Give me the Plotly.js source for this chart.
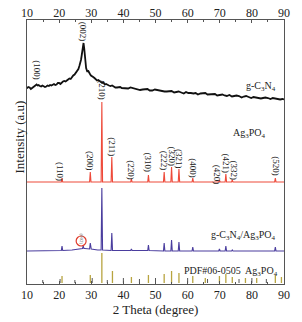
<!DOCTYPE html>
<html><head><meta charset="utf-8">
<script src="https://cdn.plot.ly/plotly-3.0.1.min.js"></script>
<style>html,body{margin:0;padding:0;background:#fff;}#g{width:302px;height:322px;}</style>
</head><body><div id="g"></div>
<script>
// g-C3N4 pattern (noisy broad curve)
const gTheta = [10.0,10.4,10.8,11.2,11.6,12.0,12.4,12.8,13.0,13.3,13.6,14.0,14.4,14.8,15.2,15.6,16.0,16.4,16.8,17.2,17.6,18.0,18.4,18.8,19.2,19.6,20.0,20.4,20.8,21.2,21.6,22.0,22.4,22.8,23.2,23.6,24.0,24.4,24.8,25.1,25.4,25.7,26.0,26.3,26.5,26.8,27.0,27.2,27.4,27.6,27.8,28.0,28.2,28.4,28.6,28.8,29.0,29.3,29.6,29.9,30.2,30.6,31.0,31.4,31.8,32.2,32.6,33.0,33.4,33.8,34.2,34.6,35.0,35.5,36.0,36.5,37.0,37.5,38.0,38.5,39.0,39.5,40.0,40.8,41.5,42.2,43.0,43.8,44.5,45.2,46.0,46.8,47.5,48.2,49.0,49.8,50.5,51.2,52.0,52.8,53.5,54.2,55.0,55.8,56.5,57.2,58.0,58.8,59.5,60.2,61.0,61.8,62.5,63.2,64.0,64.8,65.5,66.2,67.0,67.8,68.5,69.2,70.0,70.8,71.5,72.2,73.0,73.8,74.5,75.2,76.0,76.8,77.5,78.2,79.0,79.8,80.5,81.2,82.0,82.8,83.5,84.2,85.0,85.8,86.5,87.2,88.0,88.8,89.5,90.0];
const gInt   = [195.5,197,196.5,195,196,197.5,198,199,199.5,198.5,199,198,197.5,198.5,198,197,197.5,198.5,198,199,198.5,199.5,200,199,199.5,201,201,200,201.5,202.5,203,202.5,203.5,204.5,205.5,205,207,208.5,209.5,211,212,213.5,215,218,220,224,228,234,239,241,236,228,221,216,214,212,213.5,211,210,208.5,207.5,207,206,204.5,203.5,204,203,202,201,201.5,199.5,200,199,198.5,198,198.5,197.5,196.5,196.5,197,197,196,196,195.5,195.5,196.5,196,195,195,194,194.5,195,195,193.5,193.5,194.5,194,193,193,192.5,192.5,193,193,191.5,192,192.5,191.5,190.5,192,191,191,190.5,191,189.5,190.5,191,191,189.5,189.5,190,190,188.5,189,189.5,188.5,188,189,187.5,188,188.5,188,186.5,187.5,188,187,186,187,186.5,186.5,185.5,186,186.5,186,185,186,185.5,185,184.5,185,184.5];

// Ag3PO4 pattern: peak positions and peak-top intensities over a flat baseline
const agBase = 102;
const agTheta = [20.9,29.7,33.3,36.4,42.5,47.8,52.7,55.0,57.3,61.6,69.9,71.9,73.9,87.3];
const agTop   = [106,112,182,127,105,109,112,117,115,106,104,110,104,106];
const agLabels = ["(110)","(200)","(210)","(211)","(220)","(310)","(222)","(320)","(321)","(400)","(420)","(421)","(332)","(520)"];
const agLabelTheta = [20.3,29.6,33.3,36.4,42.3,47.8,52.7,55.0,57.3,61.6,69.2,71.8,74.3,87.4];
const agLabelY = [113,123,194,137,114,121,123,128,125,116,109,121,114,118];

// g-C3N4/Ag3PO4 composite: baseline points and peaks
const cBaseTheta = [10,16,20,24,26,28,30,32,40,60,90];
const cBaseInt   = [33,33,33.5,34,35,35.5,35,34,33.5,33,33];
const cTheta = [20.9,27.5,29.7,33.3,36.4,42.5,47.8,52.7,55.0,57.3,61.6,69.9,71.9,73.9,87.3];
const cPeakBase = [33.5,35.5,35,34,33.5,33.5,33.5,33,33,33,33,33,33,33,33];
const cTop  = [38,38,41,96,51,35,39,41,44,42,37,35,38,34,37];

// PDF#06-0505 reference sticks
const pdfTheta = [14.9,20.3,20.9,24.9,29.7,30.3,33.3,35.0,36.6,40.0,42.5,45.0,47.8,50.0,52.7,55.0,57.3,60.0,61.6,65.5,66.2,69.9,71.9,73.9,76.0,78.0,80.0,81.5,84.5,87.3,89.2];
const pdfInt   = [3,4,7,3,8,5,30,3,12,5,6,4,8,5,9,12,10,5,7,5,4,7,9,6,4,5,5,5,4,8,6];
const pdfMain  = [0,0,1,0,1,0,1,0,1,0,1,0,1,0,1,1,1,0,1,1,0,1,1,1,0,1,0,1,0,1,1];

// build traces
function sticks(thetas, tops, base, halfw){
  const x=[], y=[];
  thetas.forEach((t,i)=>{ x.push(t-halfw,t,t+halfw); y.push(base[i],tops[i],base[i]); });
  return {x,y};
}
const agPts = sticks(agTheta, agTop, agTheta.map(()=>agBase), 0.22);
const agX=[10].concat(agPts.x,[90]), agY=[agBase].concat(agPts.y,[agBase]);

const cPts = sticks(cTheta, cTop, cPeakBase, 0.22);
let cAll = cBaseTheta.map((t,i)=>[t,cBaseInt[i]]);
cPts.x.forEach((t,i)=>cAll.push([t,cPts.y[i]]));
cAll.sort((a,b)=>a[0]-b[0]);

function pdfLines(sel){
  const x=[],y=[];
  pdfTheta.forEach((t,i)=>{ if(pdfMain[i]===sel){ x.push(t,t,null); y.push(1,1+pdfInt[i],null);} });
  return {x,y};
}
const pMain=pdfLines(1), pMinor=pdfLines(0);

const traces = [
  {x:gTheta,y:gInt,mode:'lines',line:{color:'#111',width:1.8},hoverinfo:'skip'},
  {x:agX,y:agY,mode:'lines',line:{color:'#ee4a3a',width:1.1},hoverinfo:'skip'},
  {x:cAll.map(p=>p[0]),y:cAll.map(p=>p[1]),mode:'lines',line:{color:'#4a3d9e',width:1.1},hoverinfo:'skip'},
  {x:pMain.x,y:pMain.y,mode:'lines',line:{color:'#b8a440',width:1.3},hoverinfo:'skip'},
  {x:pMinor.x,y:pMinor.y,mode:'lines',line:{color:'#555',width:1},hoverinfo:'skip'},
  {x:[10,90],y:[-10,-10],xaxis:'x2',mode:'lines',line:{width:0},hoverinfo:'skip',showlegend:false}
];

const serif = 'Liberation Serif, Times New Roman, serif';
const ann = [];
agLabels.forEach((l,i)=>ann.push({x:agLabelTheta[i],y:agLabelY[i],text:l,showarrow:false,textangle:90,font:{family:serif,size:9,color:'#222'}}));
ann.push({x:13,y:214,text:'(100)',showarrow:false,textangle:90,font:{family:serif,size:9,color:'#222'}});
ann.push({x:27.5,y:252,text:'(002)',showarrow:false,textangle:90,font:{family:serif,size:9,color:'#222'}});
ann.push({x:27.0,y:45,text:'(002)',showarrow:false,textangle:90,font:{family:serif,size:5,color:'#666'}});
ann.push({x:88.1,y:198,text:'g-C<sub>3</sub>N<sub>4</sub>',showarrow:false,xanchor:'right',font:{family:serif,size:10,color:'#222'}});
ann.push({x:85.0,y:151,text:'Ag<sub>3</sub>PO<sub>4</sub>',showarrow:false,xanchor:'right',font:{family:serif,size:10,color:'#222'}});
ann.push({x:88.1,y:49,text:'g-C<sub>3</sub>N<sub>4</sub>/Ag<sub>3</sub>PO<sub>4</sub>',showarrow:false,xanchor:'right',font:{family:serif,size:10,color:'#222'}});
ann.push({x:88.8,y:13,text:'PDF#06-0505  Ag<sub>3</sub>PO<sub>4</sub>',showarrow:false,xanchor:'right',font:{family:serif,size:10,color:'#222'}});
ann.push({xref:'paper',yref:'paper',x:-0.066,y:0.557,text:'Intensity (a.u)',showarrow:false,textangle:-90,font:{family:serif,size:13,color:'#222'}});

const layout = {
  width:302,height:322,margin:{l:27,r:18,t:20,b:38},
  paper_bgcolor:'#fff',plot_bgcolor:'#fff',showlegend:false,
  font:{family:serif,color:'#222'},
  xaxis:{range:[10,90],dtick:10,tick0:10,showline:true,linecolor:'#555',linewidth:1,mirror:true,
    ticks:'inside',ticklen:3,tickcolor:'#555',showgrid:false,zeroline:false,
    minor:{dtick:5,ticks:'inside',ticklen:2,tickcolor:'#555'},
    tickfont:{family:serif,size:12,color:'#222'},
    title:{text:'2 Theta (degree)',font:{family:serif,size:13,color:'#222'},standoff:2}},
  xaxis2:{range:[10,90],dtick:10,tick0:10,overlaying:'x',side:'top',anchor:'y',showline:false,
    ticks:'inside',ticklen:3,tickcolor:'#555',showgrid:false,zeroline:false,
    minor:{dtick:5,ticks:'inside',ticklen:2,tickcolor:'#555'},
    tickfont:{family:serif,size:12,color:'#222'}},
  yaxis:{range:[0,264],showline:true,linecolor:'#555',linewidth:1,mirror:true,showticklabels:false,
    ticks:'',showgrid:false,zeroline:false},
  annotations:ann,
  shapes:[{type:'circle',xref:'x',yref:'y',x0:25.3,x1:28.4,y0:38,y1:48,line:{color:'#e03a2a',width:1.2}}]
};
Plotly.newPlot('g',traces,layout,{displayModeBar:false,staticPlot:true});
</script></body></html>
